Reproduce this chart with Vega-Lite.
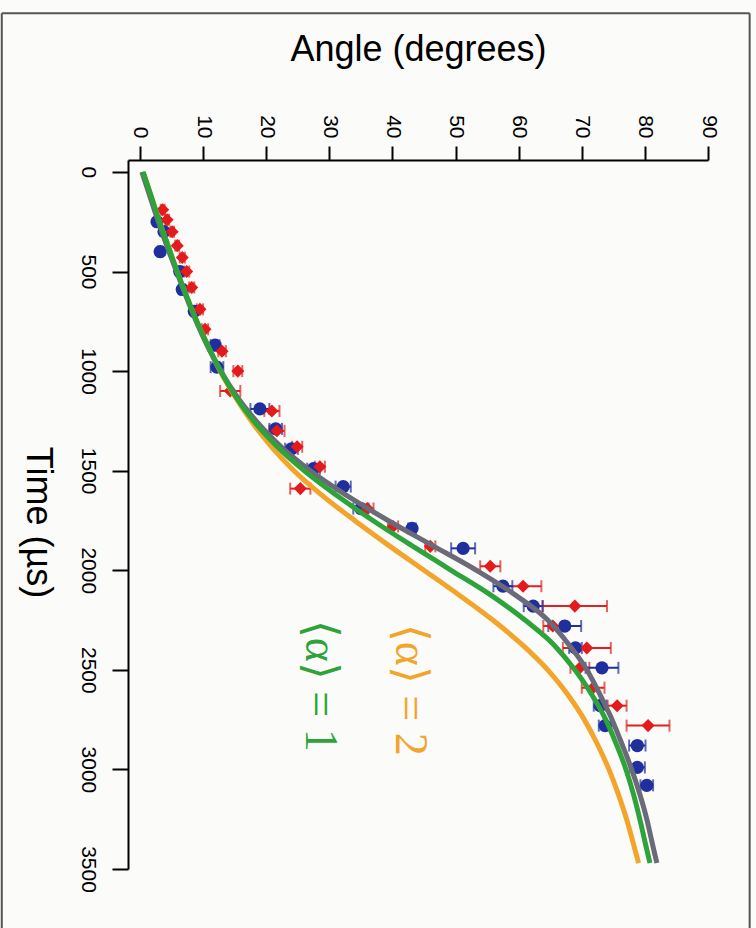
{
  "$schema": "https://vega.github.io/schema/vega-lite/v6.json",
  "width": 580,
  "height": 709,
  "autosize": {"type": "none"},
  "padding": {"left": 128, "top": 160, "right": 48, "bottom": 59},
  "background": "#fbfbf9",
  "config": {"view": {"stroke": null}, "font": "Liberation Sans"},
  "datasets": {
    "red": [
      {"t": 190, "a": 3.6, "e": 0.3}, {"t": 240, "a": 4.3, "e": 0.3}, {"t": 300, "a": 5.1, "e": 0.3},
      {"t": 370, "a": 5.9, "e": 0.3}, {"t": 430, "a": 6.7, "e": 0.4}, {"t": 500, "a": 7.4, "e": 0.4},
      {"t": 580, "a": 8.2, "e": 0.4}, {"t": 690, "a": 9.5, "e": 0.5}, {"t": 790, "a": 10.3, "e": 0.5},
      {"t": 900, "a": 13.0, "e": 0.6}, {"t": 1000, "a": 15.5, "e": 0.7}, {"t": 1100, "a": 14.3, "e": 1.6},
      {"t": 1200, "a": 20.9, "e": 1.2}, {"t": 1300, "a": 21.7, "e": 1.2}, {"t": 1380, "a": 24.9, "e": 0.8},
      {"t": 1480, "a": 28.5, "e": 0.8}, {"t": 1590, "a": 25.4, "e": 1.6}, {"t": 1690, "a": 36.0, "e": 1.0},
      {"t": 1780, "a": 40.1, "e": 0.8}, {"t": 1880, "a": 46.0, "e": 0.8}, {"t": 1980, "a": 55.5, "e": 1.6},
      {"t": 2080, "a": 60.7, "e": 2.9}, {"t": 2180, "a": 68.9, "e": 5.1}, {"t": 2280, "a": 65.4, "e": 1.5},
      {"t": 2390, "a": 70.8, "e": 3.8}, {"t": 2490, "a": 69.7, "e": 1.5}, {"t": 2590, "a": 71.8, "e": 1.8},
      {"t": 2680, "a": 75.6, "e": 1.5}, {"t": 2780, "a": 80.5, "e": 3.4}
    ],
    "blue": [
      {"t": 250, "a": 2.7, "e": 0.3}, {"t": 300, "a": 3.8, "e": 0.3}, {"t": 400, "a": 3.2, "e": 0.4},
      {"t": 500, "a": 6.3, "e": 0.3}, {"t": 590, "a": 6.7, "e": 0.4}, {"t": 700, "a": 8.6, "e": 0.4},
      {"t": 870, "a": 11.9, "e": 0.7}, {"t": 980, "a": 12.2, "e": 1.0}, {"t": 1190, "a": 19.0, "e": 1.5},
      {"t": 1290, "a": 21.5, "e": 1.0}, {"t": 1390, "a": 24.0, "e": 1.0}, {"t": 1490, "a": 27.5, "e": 1.0},
      {"t": 1580, "a": 32.2, "e": 1.2}, {"t": 1690, "a": 35.0, "e": 1.2}, {"t": 1790, "a": 43.1, "e": 0.6},
      {"t": 1890, "a": 51.2, "e": 1.9}, {"t": 2080, "a": 57.5, "e": 1.5}, {"t": 2180, "a": 62.3, "e": 1.5},
      {"t": 2280, "a": 67.3, "e": 2.6}, {"t": 2390, "a": 69.0, "e": 1.0}, {"t": 2490, "a": 73.2, "e": 2.6},
      {"t": 2680, "a": 72.9, "e": 1.0}, {"t": 2780, "a": 73.7, "e": 1.0}, {"t": 2880, "a": 78.8, "e": 1.3},
      {"t": 2990, "a": 78.8, "e": 1.2}, {"t": 3080, "a": 80.3, "e": 1.0}
    ],
    "alpha2": [
      {"t": 0, "a": 0.5}, {"t": 125, "a": 1.8}, {"t": 250, "a": 3.1}, {"t": 375, "a": 4.5},
      {"t": 500, "a": 5.9}, {"t": 625, "a": 7.4}, {"t": 750, "a": 9.0}, {"t": 875, "a": 10.8},
      {"t": 1000, "a": 12.7}, {"t": 1125, "a": 15.0}, {"t": 1250, "a": 17.6}, {"t": 1375, "a": 20.7},
      {"t": 1500, "a": 24.4}, {"t": 1625, "a": 28.9}, {"t": 1750, "a": 34.0}, {"t": 1875, "a": 39.4},
      {"t": 2000, "a": 45.0}, {"t": 2125, "a": 50.6}, {"t": 2250, "a": 55.9}, {"t": 2375, "a": 60.6},
      {"t": 2500, "a": 64.6}, {"t": 2625, "a": 67.8}, {"t": 2750, "a": 70.4}, {"t": 2875, "a": 72.5},
      {"t": 3000, "a": 74.3}, {"t": 3125, "a": 75.8}, {"t": 3250, "a": 77.1}, {"t": 3375, "a": 78.2},
      {"t": 3470, "a": 79.0}
    ],
    "alpha1": [
      {"t": 0, "a": 0.5}, {"t": 125, "a": 1.8}, {"t": 250, "a": 3.1}, {"t": 375, "a": 4.5},
      {"t": 500, "a": 5.9}, {"t": 625, "a": 7.4}, {"t": 750, "a": 9.0}, {"t": 875, "a": 10.8},
      {"t": 1000, "a": 12.8}, {"t": 1125, "a": 15.1}, {"t": 1250, "a": 18.0}, {"t": 1375, "a": 21.6},
      {"t": 1500, "a": 26.0}, {"t": 1625, "a": 31.2}, {"t": 1750, "a": 36.9}, {"t": 1875, "a": 43.0},
      {"t": 2000, "a": 49.3}, {"t": 2125, "a": 55.6}, {"t": 2250, "a": 61.0}, {"t": 2375, "a": 65.6},
      {"t": 2500, "a": 68.9}, {"t": 2625, "a": 71.6}, {"t": 2750, "a": 73.8}, {"t": 2875, "a": 75.5},
      {"t": 3000, "a": 77.0}, {"t": 3125, "a": 78.2}, {"t": 3250, "a": 79.2}, {"t": 3375, "a": 80.1},
      {"t": 3470, "a": 80.8}
    ],
    "fit": [
      {"t": 0, "a": 0.3}, {"t": 125, "a": 1.6}, {"t": 250, "a": 2.9}, {"t": 375, "a": 4.3},
      {"t": 500, "a": 5.8}, {"t": 625, "a": 7.3}, {"t": 750, "a": 8.9}, {"t": 875, "a": 10.7},
      {"t": 1000, "a": 12.8}, {"t": 1125, "a": 15.3}, {"t": 1250, "a": 18.4}, {"t": 1375, "a": 22.2},
      {"t": 1500, "a": 27.0}, {"t": 1625, "a": 32.8}, {"t": 1750, "a": 39.3}, {"t": 1875, "a": 46.3},
      {"t": 2000, "a": 53.3}, {"t": 2125, "a": 59.5}, {"t": 2250, "a": 64.6}, {"t": 2375, "a": 68.0},
      {"t": 2500, "a": 70.8}, {"t": 2625, "a": 72.9}, {"t": 2750, "a": 74.8}, {"t": 2875, "a": 76.4},
      {"t": 3000, "a": 77.9}, {"t": 3125, "a": 79.2}, {"t": 3250, "a": 80.3}, {"t": 3375, "a": 81.2},
      {"t": 3470, "a": 81.9}
    ],
    "labels": [
      {"t": 2600, "a": 42.8, "label": "⟨α⟩ = 2", "model": "alpha2"},
      {"t": 2580, "a": 28.6, "label": "⟨α⟩ = 1", "model": "alpha1"}
    ],
    "border": [
      {"side": "top", "a": -21.9, "a2": 96.6, "t": -797, "t2": -797},
      {"side": "left", "a": -21.9, "a2": -21.9, "t": -797, "t2": 3820},
      {"side": "right", "a": 96.6, "a2": 96.6, "t": -797, "t2": 3820}
    ]
  },
  "encoding": {
    "x": {
      "field": "a",
      "type": "quantitative",
      "scale": {"domain": [-1.9, 90], "nice": false, "zero": false},
      "axis": {
        "orient": "top",
        "values": [0, 10, 20, 30, 40, 50, 60, 70, 80, 90],
        "format": "d",
        "grid": false,
        "domainColor": "#000000",
        "domainWidth": 2,
        "tickColor": "#000000",
        "tickWidth": 2,
        "tickSize": 14,
        "labelAngle": 90,
        "labelAlign": "right",
        "labelBaseline": "middle",
        "labelPadding": 8,
        "labelFlush": false,
        "labelOverlap": false,
        "labelFontSize": 21,
        "labelColor": "#000000",
        "title": "Angle (degrees)",
        "titleFontSize": 36,
        "titleFontWeight": "normal",
        "titleColor": "#000000",
        "titleAngle": 0,
        "titleAlign": "center",
        "titleBaseline": "alphabetic",
        "titleY": -100
      }
    },
    "y": {
      "field": "t",
      "type": "quantitative",
      "scale": {"domain": [-60, 3500], "nice": false, "zero": false, "reverse": true},
      "axis": {
        "orient": "left",
        "values": [0, 500, 1000, 1500, 2000, 2500, 3000, 3500],
        "format": "d",
        "grid": false,
        "domainColor": "#000000",
        "domainWidth": 2,
        "tickColor": "#000000",
        "tickWidth": 2,
        "tickSize": 16,
        "labelAngle": 90,
        "labelAlign": "center",
        "labelBaseline": "top",
        "labelPadding": 14,
        "labelFlush": false,
        "labelOverlap": false,
        "labelFontSize": 21,
        "labelColor": "#000000",
        "title": "Time (µs)",
        "titleFontSize": 36,
        "titleFontWeight": "normal",
        "titleColor": "#000000",
        "titleAngle": 90,
        "titleAlign": "center",
        "titleBaseline": "middle",
        "titleX": -91,
        "titleY": 362
      }
    }
  },
  "layer": [
    {
      "data": {"name": "border"},
      "mark": {"type": "rule", "color": "#555555", "strokeWidth": 2},
      "encoding": {
        "x2": {"field": "a2"},
        "y2": {"field": "t2"}
      }
    },
    {
      "data": {"name": "red"},
      "mark": {"type": "errorbar", "color": "#e0221e", "thickness": 2, "ticks": {"size": 12, "strokeWidth": 2}},
      "encoding": {"xError": {"field": "e"}}
    },
    {
      "data": {"name": "blue"},
      "mark": {"type": "errorbar", "color": "#1f2f9e", "thickness": 2, "ticks": {"size": 12, "strokeWidth": 2}},
      "encoding": {"xError": {"field": "e"}}
    },
    {
      "data": {"name": "blue"},
      "mark": {"type": "point", "shape": "circle", "filled": true, "size": 175, "color": "#1f2f9e", "opacity": 1}
    },
    {
      "data": {"name": "red"},
      "mark": {"type": "point", "shape": "diamond", "filled": true, "size": 170, "color": "#e41a1c", "opacity": 1}
    },
    {
      "data": {"name": "alpha2"},
      "mark": {"type": "line", "color": "#f2a52a", "strokeWidth": 5, "interpolate": "monotone"},
      "encoding": {"order": {"field": "t", "type": "quantitative"}}
    },
    {
      "data": {"name": "fit"},
      "mark": {"type": "line", "color": "#6a6a78", "strokeWidth": 5, "interpolate": "monotone"},
      "encoding": {"order": {"field": "t", "type": "quantitative"}}
    },
    {
      "data": {"name": "alpha1"},
      "mark": {"type": "line", "color": "#2ea33a", "strokeWidth": 5, "interpolate": "monotone"},
      "encoding": {"order": {"field": "t", "type": "quantitative"}}
    },
    {
      "data": {"name": "labels"},
      "mark": {"type": "text", "angle": 90, "align": "center", "baseline": "middle", "font": "Liberation Serif", "fontSize": 46},
      "encoding": {
        "text": {"field": "label"},
        "color": {
          "field": "model",
          "type": "nominal",
          "scale": {"domain": ["alpha2", "alpha1"], "range": ["#f2a52a", "#2ea33a"]},
          "legend": null
        }
      }
    }
  ]
}
